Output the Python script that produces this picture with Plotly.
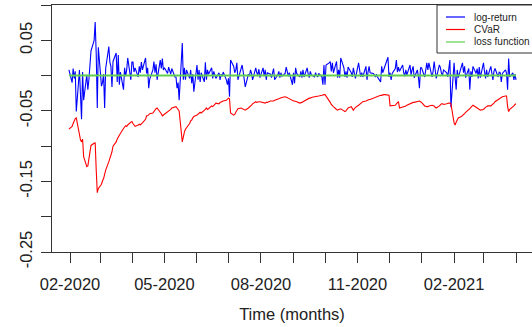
import pandas as pd
import plotly.graph_objects as go

# ---------------- data ----------------
start_date = "2020-01-31"
end_date = "2021-04-01"

log_return_2020 = [
    # Jan31 + Feb 2020
    0.008, -0.010, 0.010, -0.004, 0.006, -0.051, 0.008, -0.030, -0.062, 0.005, -0.035,
    0.001, -0.020, -0.006, 0.020, 0.035, 0.050, 0.076, 0.030, -0.046, 0.040,
    # Mar 2020
    -0.015, -0.010, 0.002, -0.046, 0.010, 0.041, 0.019, 0.013, -0.016, 0.020, 0.032,
    -0.009, 0.029, -0.013, 0.005, -0.020, 0.011, -0.001, 0.008, 0.025, -0.006, 0.019,
    # Apr 2020
    0.019, 0.005, 0.011, -0.002, 0.013, 0.004, 0.019, 0.008, 0.025, 0.003, 0.011,
    -0.018, -0.005, 0.008, 0.020, 0.004, 0.016, -0.006, 0.022, 0.010, 0.024, 0.008,
    # May 2020
    0.011, 0.003, 0.012, 0.007, 0.002, 0.010, -0.002, -0.002, -0.018, -0.010, -0.035,
    0.046, -0.006, 0.011, -0.006, 0.008, -0.004, 0.008, -0.011, 0.002, -0.023,
    # Jun 2020
    0.015, -0.006, 0.008, -0.009, 0.004, -0.009, 0.019, -0.006, 0.008, 0.002, 0.011,
    -0.004, 0.006, 0.000, -0.004, 0.004, -0.006, 0.002, -0.001, 0.005, -0.006, -0.013,
    # Jul 2020
    -0.004, -0.030, 0.022, 0.013, 0.004, 0.008, 0.018, -0.006, 0.010, 0.015, 0.006,
    -0.009, -0.016, 0.002, -0.001, 0.008, 0.003, -0.006, 0.011, 0.004, 0.001, 0.009, -0.003,
    # Aug 2020
    0.011, -0.001, 0.008, -0.006, 0.004, 0.002, -0.003, 0.005, 0.010, -0.006, 0.001,
    0.006, -0.003, 0.004, -0.001, 0.003, 0.012, 0.006, -0.001, 0.004, -0.013,
    # Sep 2020
    0.004, -0.011, 0.011, 0.003, -0.002, 0.006, -0.003, 0.008, -0.002, 0.011, 0.002,
    -0.003, 0.006, 0.001, -0.002, 0.004, 0.000, -0.002, 0.003, -0.002, -0.013, 0.015,
    # Oct 2020
    -0.013, 0.015, 0.018, 0.020, 0.006, 0.018, 0.004, 0.020, -0.003, 0.008, -0.003,
    0.025, 0.011, -0.002, 0.006, -0.003, 0.012, 0.004, -0.002, 0.011, 0.003, -0.004,
    # Nov 2020
    0.018, 0.004, -0.002, 0.004, -0.002, 0.013, -0.006, 0.005, 0.013, 0.004, 0.003,
    0.001, -0.002, 0.002, -0.002, -0.009, 0.013, 0.004, 0.008, 0.015, 0.026,
    # Dec 2020
    -0.002, 0.004, -0.006, 0.003, 0.010, 0.022, 0.005, 0.012, 0.006, 0.015, 0.004,
    -0.001, 0.008, 0.001, 0.015, 0.001, 0.008, 0.013, -0.003, 0.008, -0.002, -0.018, 0.011,
]
log_return_2021 = [
    # Jan 2021
    0.011, -0.002, 0.008, 0.018, 0.008, 0.018, -0.002, 0.006, 0.020, 0.004, -0.004,
    0.015, 0.011, 0.003, 0.001, 0.008, 0.004, -0.002, 0.010, 0.022, -0.045,
    # Feb 2021
    0.018, -0.003, -0.020, 0.008, -0.003, 0.013, 0.018, 0.004, 0.013, -0.003,
    0.010, -0.020, 0.006, -0.002, 0.013, 0.003, 0.010, -0.004, 0.012, -0.003,
    # Mar 2021 + Apr 1
    0.018, 0.006, -0.004, 0.008, -0.002, 0.013, 0.002, -0.006, 0.006, 0.010, -0.002,
    0.005, 0.004, -0.009, 0.003, 0.008, 0.003, -0.020, 0.024, -0.002, 0.004, -0.006, 0.002,
    -0.006,
]

cvar_2020 = [
    # Jan31 + Feb 2020
    -0.076, -0.072, -0.068, -0.064, -0.061, -0.060, -0.085, -0.091, -0.094, -0.090, -0.115,
    -0.129, -0.128, -0.118, -0.105, -0.099, -0.096, -0.095, -0.134, -0.166, -0.160,
    # Mar 2020
    -0.154, -0.149, -0.146, -0.140, -0.134, -0.122, -0.118, -0.115, -0.108, -0.100, -0.094,
    -0.090, -0.087, -0.084, -0.082, -0.075, -0.073, -0.071, -0.072, -0.070, -0.066, -0.065,
    # Apr 2020
    -0.068, -0.070, -0.072, -0.070, -0.069, -0.070, -0.068, -0.067, -0.062, -0.057, -0.057,
    -0.055, -0.054, -0.053, -0.051, -0.048, -0.047, -0.046, -0.051, -0.054, -0.057, -0.056,
    # May 2020
    -0.055, -0.052, -0.051, -0.049, -0.048, -0.046, -0.045, -0.044, -0.046, -0.048, -0.050,
    -0.094, -0.086, -0.080, -0.076, -0.074, -0.068, -0.064, -0.063, -0.060, -0.058,
    # Jun 2020
    -0.056, -0.055, -0.053, -0.052, -0.053, -0.050, -0.048, -0.046, -0.048, -0.047, -0.043,
    -0.044, -0.043, -0.041, -0.039, -0.040, -0.038, -0.037, -0.037, -0.036, -0.035, -0.033,
    # Jul 2020
    -0.032, -0.033, -0.053, -0.056, -0.055, -0.052, -0.049, -0.047, -0.046, -0.047, -0.048,
    -0.049, -0.049, -0.046, -0.045, -0.044, -0.042, -0.040, -0.037, -0.038, -0.037, -0.037, -0.037,
    # Aug 2020
    -0.038, -0.039, -0.039, -0.038, -0.038, -0.036, -0.036, -0.037, -0.036, -0.035, -0.034,
    -0.033, -0.032, -0.032, -0.031, -0.030, -0.030, -0.031, -0.032, -0.033, -0.035,
    # Sep 2020
    -0.036, -0.036, -0.036, -0.037, -0.039, -0.039, -0.038, -0.037, -0.036, -0.034, -0.033,
    -0.032, -0.032, -0.031, -0.030, -0.030, -0.030, -0.029, -0.029, -0.028, -0.027, -0.027,
    # Oct 2020
    -0.027, -0.029, -0.035, -0.038, -0.041, -0.042, -0.044, -0.048, -0.049, -0.048, -0.047,
    -0.047, -0.050, -0.051, -0.050, -0.048, -0.046, -0.044, -0.047, -0.049, -0.047, -0.045,
    # Nov 2020
    -0.042, -0.041, -0.040, -0.039, -0.037, -0.036, -0.035, -0.035, -0.034, -0.034, -0.032,
    -0.031, -0.031, -0.030, -0.029, -0.028, -0.028, -0.027, -0.027, -0.027, -0.027,
    # Dec 2020
    -0.028, -0.043, -0.043, -0.043, -0.042, -0.040, -0.038, -0.037, -0.046, -0.045, -0.044,
    -0.044, -0.043, -0.042, -0.040, -0.039, -0.038, -0.038, -0.038, -0.037, -0.036, -0.036, -0.037,
]
cvar_2021 = [
    # Jan 2021
    -0.038, -0.043, -0.044, -0.044, -0.044, -0.043, -0.042, -0.042, -0.043, -0.045, -0.046,
    -0.043, -0.041, -0.040, -0.040, -0.041, -0.040, -0.039, -0.039, -0.039, -0.040,
    # Feb 2021
    -0.067, -0.070, -0.066, -0.062, -0.060, -0.058, -0.057, -0.056, -0.054, -0.052,
    -0.049, -0.047, -0.045, -0.043, -0.042, -0.045, -0.046, -0.047, -0.048, -0.049,
    # Mar 2021 + Apr 1
    -0.048, -0.046, -0.045, -0.044, -0.043, -0.043, -0.042, -0.041, -0.039, -0.037, -0.034,
    -0.033, -0.032, -0.031, -0.030, -0.029, -0.029, -0.044, -0.051, -0.048, -0.045, -0.043, -0.041,
    -0.040,
]

loss_dates = ["2020-01-31", "2021-04-01"]
loss_values = [0.0, 0.0]

x_tick_dates = [
    "2020-02-01", "2020-03-01", "2020-04-01", "2020-05-01", "2020-06-01",
    "2020-07-01", "2020-08-01", "2020-09-01", "2020-10-01", "2020-11-01",
    "2020-12-01", "2021-01-01", "2021-02-01", "2021-03-01", "2021-04-01",
]
x_tick_labels = ["02-2020", "", "", "05-2020", "", "", "08-2020", "", "",
                 "11-2020", "", "", "02-2021", "", ""]
y_tick_values = [0.10, 0.05, 0.0, -0.05, -0.10, -0.15, -0.20, -0.25]
y_tick_labels = ["", "0.05", "", "-0.05", "", "-0.15", "", "-0.25"]

legend_names = ["log-return", "CVaR", "loss function"]
series_colors = ["#0000FF", "#FF0000", "#61D04F"]

# ---------------- figure ----------------
dates = pd.bdate_range(start_date, end_date)
log_return = log_return_2020 + log_return_2021
cvar = cvar_2020 + cvar_2021
assert len(dates) == len(log_return) == len(cvar)

FONT = "Liberation Sans, Arial, Helvetica, sans-serif"
AX = "#333333"

fig = go.Figure()
fig.add_trace(go.Scatter(x=dates, y=log_return, mode="lines", name=legend_names[0],
                         line=dict(color=series_colors[0], width=1.1), showlegend=False))
fig.add_trace(go.Scatter(x=dates, y=cvar, mode="lines", name=legend_names[1],
                         line=dict(color=series_colors[1], width=1.1), showlegend=False))
fig.add_trace(go.Scatter(x=loss_dates, y=loss_values, mode="lines", name=legend_names[2],
                         line=dict(color=series_colors[2], width=2), showlegend=False))

fig.update_layout(
    width=532, height=327,
    margin=dict(l=52, r=0, t=5, b=75),
    paper_bgcolor="white", plot_bgcolor="white",
    font=dict(family=FONT, size=16, color="#222222"),
    xaxis=dict(
        type="date",
        range=["2020-01-14 20:24", "2021-04-16 06:00"],
        tickmode="array", tickvals=x_tick_dates, ticktext=x_tick_labels,
        ticks="outside", ticklen=10, tickwidth=1, tickcolor=AX,
        showline=True, linecolor=AX, linewidth=1, mirror=True,
        showgrid=False, zeroline=False,
        tickfont=dict(size=16.5), ticklabelstandoff=7,
        title=dict(text="Time (months)", font=dict(size=16.5), standoff=16),
    ),
    yaxis=dict(
        range=[-0.25, 0.10],
        tickmode="array", tickvals=y_tick_values, ticktext=y_tick_labels,
        tickangle=-90,
        ticks="outside", ticklen=10, tickwidth=1, tickcolor=AX,
        showline=True, linecolor=AX, linewidth=1,
        showgrid=False, zeroline=False,
        tickfont=dict(size=16.5), ticklabelstandoff=2,
    ),
)

# legend box (R-style, top-right corner of plot region)
def px_x(p):
    return (p - 52) / 480.0

def px_y(p):
    return (252 - p) / 247.0

fig.add_shape(type="rect", xref="paper", yref="paper",
              x0=px_x(437), x1=px_x(545), y0=px_y(53), y1=px_y(5),
              line=dict(color=AX, width=1), fillcolor="white", layer="above")
for i, (name, col) in enumerate(zip(legend_names, series_colors)):
    yy = px_y(17 + i * 12.5)
    fig.add_shape(type="line", xref="paper", yref="paper",
                  x0=px_x(446), x1=px_x(465), y0=yy, y1=yy,
                  line=dict(color=col, width=1.2), layer="above")
    fig.add_annotation(xref="paper", yref="paper", x=px_x(472), y=yy,
                       text=name, showarrow=False, xanchor="left", yanchor="middle",
                       font=dict(family=FONT, size=10, color="#222222"))

fig.write_html(
    "out.html",
    config={"displayModeBar": False},
    post_script="document.body.style.margin='0';document.body.style.overflow='hidden';",
)
